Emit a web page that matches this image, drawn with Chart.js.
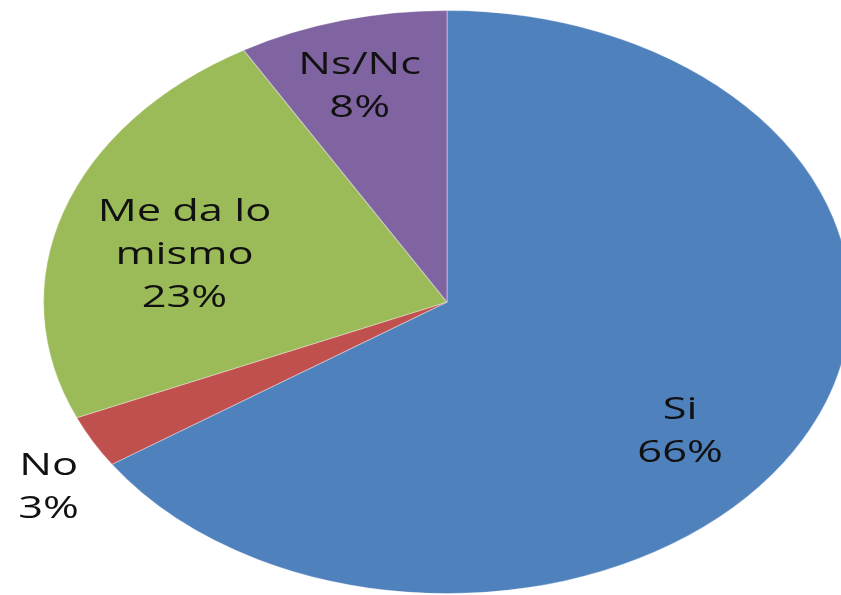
<!DOCTYPE html>
<html>
    <head>
        <title>Pie</title>
        <script src="https://cdn.jsdelivr.net/npm/chart.js@4.4.0/dist/chart.umd.min.js"></script>
        <style>
            html, body { margin: 0; padding: 0; background: #fff; }
            .chart-container { position: relative; width: 841px; height: 595px; }
        </style>
    </head>
    <body>
        <div class="chart-container">
            <canvas id="myChart"></canvas>
        </div>

        <script>
            // data
            var labels = ['Si', 'No', 'Me da lo mismo', 'Ns/Nc'];
            var labelLines = [['Si'], ['No'], ['Me da lo', 'mismo'], ['Ns/Nc']];
            var values = [65.6, 2.9, 23.1, 8.4];
            var colors = ['#4F81BD', '#C0504D', '#9BBB59', '#8064A2'];

            // the original pie is stretched sideways into an ellipse
            var stretchX = 1.384;
            var textStretch = 1.4;
            // label placement per slice: [angle nudge in degrees, fraction of radius]
            var labelPlace = [[9.6, 0.73], [-4.2, 1.175], [-4.4, 0.67], [-1.2, 0.77]];

            var ellipse = {
                id: 'ellipse',
                beforeDatasetsDraw: function(chart) {
                    var arc = chart.getDatasetMeta(0).data[0];
                    var ctx = chart.ctx;
                    ctx.save();
                    ctx.translate(arc.x, arc.y);
                    ctx.scale(stretchX, 1);
                    ctx.translate(-arc.x, -arc.y);
                },
                afterDatasetsDraw: function(chart) {
                    chart.ctx.restore();
                }
            };

            var sliceLabels = {
                id: 'sliceLabels',
                afterDraw: function(chart) {
                    var ctx = chart.ctx;
                    var meta = chart.getDatasetMeta(0);
                    var total = values.reduce(function(a, b) { return a + b; }, 0);
                    meta.data.forEach(function(arc, i) {
                        var mid = (arc.startAngle + arc.endAngle) / 2 + labelPlace[i][0] * Math.PI / 180;
                        var r = arc.outerRadius * labelPlace[i][1];
                        var x = arc.x + stretchX * r * Math.cos(mid);
                        var y = arc.y + r * Math.sin(mid);
                        var lines = labelLines[i].concat([Math.round(values[i] / total * 100) + '%']);
                        var lh = 43;
                        ctx.save();
                        ctx.translate(x, y);
                        ctx.scale(textStretch, 1);
                        ctx.fillStyle = '#111';
                        ctx.font = '31px "Open Sans"';
                        ctx.textAlign = 'center';
                        ctx.textBaseline = 'middle';
                        lines.forEach(function(t, k) {
                            ctx.fillText(t, 0, (k - (lines.length - 1) / 2) * lh);
                        });
                        ctx.restore();
                    });
                }
            };

            var ctx = document.getElementById('myChart').getContext('2d');
            var chart = new Chart(ctx, {
                type: 'pie',
                data: {
                    labels: labels,
                    datasets: [{
                        data: values,
                        backgroundColor: colors,
                        borderColor: 'rgba(255,255,255,0.3)',
                        borderWidth: 1
                    }]
                },
                options: {
                    responsive: true,
                    maintainAspectRatio: false,
                    animation: false,
                    layout: { padding: { top: 10, bottom: 1, left: 53, right: 0 } },
                    plugins: {
                        legend: { display: false },
                        tooltip: { enabled: false }
                    }
                },
                plugins: [ellipse, sliceLabels]
            });
        </script>
    </body>
</html>
